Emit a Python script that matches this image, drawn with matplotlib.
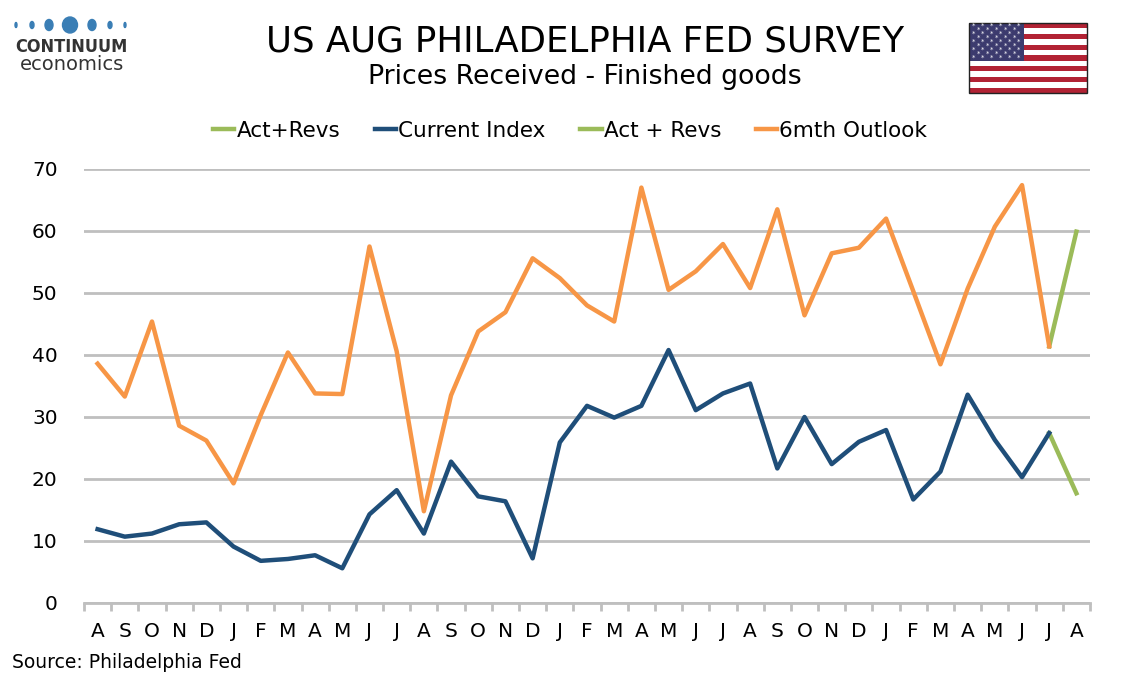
import numpy as np
import matplotlib
matplotlib.use("Agg")
import matplotlib.pyplot as plt
from matplotlib.patches import Rectangle, Ellipse

months = ["A","S","O","N","D","J","F","M","A","M","J","J","A","S","O","N","D",
          "J","F","M","A","M","J","J","A","S","O","N","D",
          "J","F","M","A","M","J","J","A"]

current_index = [11.9, 10.7, 11.2, 12.7, 13.0, 9.1, 6.8, 7.1, 7.7, 5.6, 14.3, 18.2,
                 11.2, 22.8, 17.2, 16.4, 7.2, 25.9, 31.8, 29.9, 31.8, 40.8, 31.1, 33.8,
                 35.4, 21.7, 30.0, 22.4, 26.0, 27.9, 16.7, 21.2, 33.6, 26.3, 20.3, 27.4,
                 np.nan]
outlook = [38.6, 33.3, 45.4, 28.6, 26.2, 19.3, 30.3, 40.4, 33.8, 33.7, 57.5, 40.6,
           14.8, 33.5, 43.8, 46.9, 55.6, 52.4, 48.0, 45.4, 67.0, 50.5, 53.5, 57.9,
           50.8, 63.5, 46.4, 56.4, 57.3, 62.0, 50.3, 38.5, 50.7, 60.7, 67.4, 41.4,
           np.nan]
act_revs_current = [np.nan]*35 + [27.4, 17.7]
act_revs_outlook = [np.nan]*35 + [41.4, 59.9]

BLUE = "#1F4E79"
ORANGE = "#F79646"
GREEN = "#9BBB59"
GRID = "#BFBFBF"

fig = plt.figure(figsize=(11.34, 6.8), dpi=100)
ax = fig.add_axes([84/1134, 1-603/680, (1090-84)/1134, (603-169)/680])

x = np.arange(len(months))
ax.plot(x, act_revs_current, color=GREEN, lw=3.2, label="Act+Revs", zorder=3)
ax.plot(x, current_index, color=BLUE, lw=3.2, label="Current Index", zorder=4)
ax.plot(x, act_revs_outlook, color=GREEN, lw=3.2, label="Act + Revs", zorder=3)
ax.plot(x, outlook, color=ORANGE, lw=3.2, label="6mth Outlook", zorder=4)

ax.set_xlim(-0.5, len(months) - 0.5)
ax.set_ylim(0, 70)
ax.set_yticks(np.arange(0, 71, 10))
ax.yaxis.grid(True, color=GRID, lw=2)
ax.set_axisbelow(True)
for s in ["top", "right", "left"]:
    ax.spines[s].set_visible(False)
ax.spines["bottom"].set_color(GRID)
ax.spines["bottom"].set_linewidth(2)
ax.tick_params(axis="y", length=0, labelsize=14.5, pad=19, labelcolor="#000000")
ax.set_xticks(x)
ax.set_xticklabels(months)
ax.set_xticks(np.arange(-0.5, len(months), 1), minor=True)
ax.tick_params(axis="x", which="major", length=0, labelsize=14.5, pad=14)
ax.tick_params(axis="x", which="minor", length=6, width=2, color=GRID)

leg = fig.legend(loc="center", bbox_to_anchor=(570/1134, 1-131/680), ncol=4,
                 frameon=False, handlelength=1.0, handletextpad=0.1, columnspacing=1.6,
                 prop={"family": "DejaVu Sans", "size": 15.5})

fig.text(585/1134, 1-41/680, "US AUG PHILADELPHIA FED SURVEY", ha="center", va="center",
         fontsize=25.6)
fig.text(585/1134, 1-77/680, "Prices Received - Finished goods", ha="center", va="center",
         fontsize=19.3)
fig.text(12/1134, 1-663/680, "Source: Philadelphia Fed", ha="left", va="center", fontsize=13.5)

# logo
logo_blue = "#3A7EB5"
for dx, w, h in [(16, 2, 5), (32, 4, 7), (49, 8, 11), (70, 15, 16), (92, 8, 11), (110, 4, 7), (125, 2, 5)]:
    fig.patches.append(Ellipse((dx/1134, 1-25/680), w/1134, h/680, transform=fig.transFigure,
                               color=logo_blue))
fig.text(71/1134, 1-47/680, "CONTINUUM", ha="center", va="center", fontsize=13,
         color="#333333", weight="bold", family="DejaVu Sans", stretch="condensed")
fig.text(72/1134, 1-65/680, "economics", ha="center", va="center", fontsize=14,
         color="#333333")

# flag
fx0, fy0, fw, fh = 969, 23, 118, 70
for i in range(13):
    col = "#B22234" if i % 2 == 0 else "#FFFFFF"
    fig.patches.append(Rectangle((fx0/1134, 1-(fy0 + (i+1)*fh/13)/680), fw/1134, (fh/13)/680,
                                 transform=fig.transFigure, facecolor=col, edgecolor="none"))
fig.patches.append(Rectangle((fx0/1134, 1-(fy0 + 7*fh/13)/680), 0.47*fw/1134, (7*fh/13)/680,
                             transform=fig.transFigure, facecolor="#3C3B6E", edgecolor="none"))
fig.patches.append(Rectangle((fx0/1134, 1-(fy0+fh)/680), fw/1134, fh/680,
                             transform=fig.transFigure, facecolor="none", edgecolor="#222222", lw=1))
for r in range(9):
    n = 6 if r % 2 == 0 else 5
    off = 0 if r % 2 == 0 else 0.5
    for c in range(n):
        sx = fx0 + 5 + (c + off) * 0.47 * fw / 6.2
        sy = fy0 + 3 + r * (7 * fh / 13 - 4) / 8.5
        fig.text(sx/1134, 1-sy/680, "*", color="white", fontsize=5, ha="center", va="center")

fig.savefig("out.png", dpi=100)
